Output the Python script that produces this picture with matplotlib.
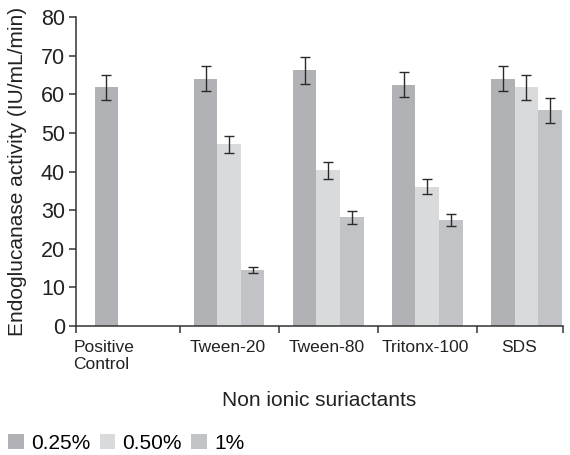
import numpy as np
import matplotlib.pyplot as plt
from matplotlib.patches import Patch
from matplotlib.transforms import blended_transform_factory

plt.rcParams['font.family'] = ['Liberation Sans', 'DejaVu Sans']

categories = ["Positive\nControl", "Tween-20", "Tween-80", "Tritonx-100", "SDS"]
series = ["0.25%", "0.50%", "1%"]

# mean activity per concentration (nan = not measured)
vals_025 = [61.8, 64.0, 66.2, 62.5, 64.0]
vals_050 = [np.nan, 47.0, 40.3, 36.1, 61.8]
vals_1 = [np.nan, 14.4, 28.2, 27.5, 55.8]

err_025 = [3.2, 3.2, 3.5, 3.2, 3.2]
err_050 = [np.nan, 2.2, 2.2, 2.0, 3.2]
err_1 = [np.nan, 0.8, 1.7, 1.5, 3.2]

colors = ["#b1b2b5", "#d9dadc", "#c2c3c6"]

fig = plt.figure(figsize=(5.7, 4.55), dpi=100)
ax = fig.add_axes([76 / 570, 1 - 326 / 455, 487 / 570, 309 / 455])

x = np.arange(len(categories))
w = 0.238
offsets = [-w, 0, w]

for vals, errs, off, col in zip([vals_025, vals_050, vals_1],
                                [err_025, err_050, err_1], offsets, colors):
    v = np.array(vals, dtype=float)
    e = np.array(errs, dtype=float)
    m = ~np.isnan(v)
    ax.bar(x[m] + off, v[m], width=w, color=col, linewidth=0)
    ax.errorbar(x[m] + off, v[m], yerr=e[m], fmt='none', ecolor='#2b2b2b',
                elinewidth=1.0, capsize=3.3, capthick=1.0)

xmin, xmax = -0.545, 4.37
ax.set_xlim(xmin, xmax)
ax.set_ylim(0, 80)
ax.set_yticks(range(0, 81, 10))
ax.set_xticks([xmin, 0.5, 1.5, 2.5, 3.5, xmax])
ax.set_xticklabels([])

for s in ['top', 'right']:
    ax.spines[s].set_visible(False)
for s in ['left', 'bottom']:
    ax.spines[s].set_color('#333333')
    ax.spines[s].set_linewidth(1.1)
ax.tick_params(axis='both', colors='#333333', width=1.1, length=5)
ax.tick_params(axis='y', labelsize=15.5, labelcolor='#222222', pad=3)

# category labels
trans = blended_transform_factory(ax.transData, ax.transAxes)
label_x = [-0.57, 0.99, 1.98, 2.98, 3.93]
label_ha = ['left', 'center', 'center', 'center', 'center']
for lx, ha, name in zip(label_x, label_ha, categories):
    ax.text(lx, -0.045, name, transform=trans, ha=ha, va='top', fontsize=12.5,
            color='#222222', linespacing=1.15)

ax.set_xlabel("Non ionic suriactants", fontsize=15, color='#222222')
ax.xaxis.set_label_coords(0.5, -0.21)
ax.set_ylabel("Endoglucanase activity (IU/mL/min)", fontsize=15, color='#222222')
ax.yaxis.set_label_coords(-0.10, 0.5)

handles = [Patch(facecolor=c, edgecolor='none') for c in colors]
fig.legend(handles, series, loc='lower left', bbox_to_anchor=(6 / 570, 0.0),
           ncol=3, frameon=False, fontsize=15, handlelength=0.75,
           handleheight=0.75, handletextpad=0.35, columnspacing=0.45,
           borderpad=0.1, borderaxespad=0)

fig.savefig("out.png", dpi=100)
